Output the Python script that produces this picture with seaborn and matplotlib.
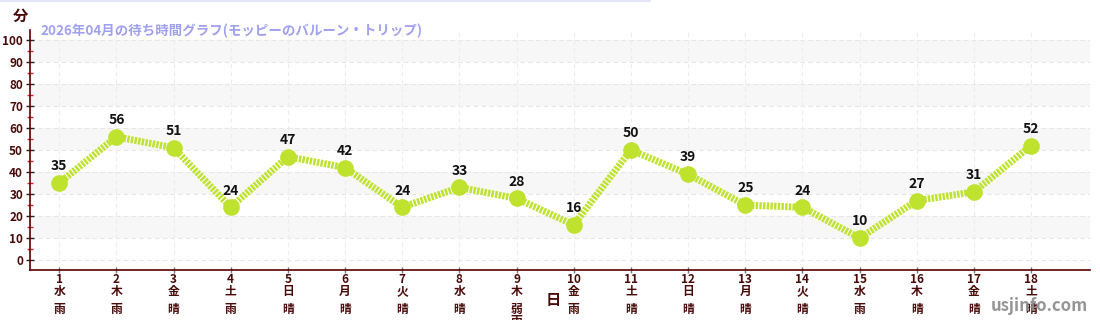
import matplotlib
matplotlib.use("Agg")
import matplotlib.pyplot as plt
import matplotlib.transforms as mtransforms
import seaborn as sns
import pandas as pd
from matplotlib.ticker import MultipleLocator

days = list(range(1, 19))
waits = [35, 56, 51, 24, 47, 42, 24, 33, 28, 16, 50, 39, 25, 24, 10, 27, 31, 52]
weekdays = ["水", "木", "金", "土", "日", "月", "火", "水", "木", "金", "土", "日", "月", "火", "水", "木", "金", "土"]
weather = ["雨", "雨", "晴", "雨", "晴", "晴", "晴", "晴", "弱\n雨", "雨", "晴", "晴", "晴", "晴", "雨", "晴", "晴", "晴"]
title = "2026年04月の待ち時間グラフ(モッピーのバルーン・トリップ)"

sns.set_theme(style="white")
plt.rcParams["font.family"] = ["Noto Sans CJK JP", "DejaVu Sans"]

df = pd.DataFrame({"day": days, "wait": waits})

fig = plt.figure(figsize=(11, 3.2), dpi=100)
ax = fig.add_axes([30 / 1100, 50 / 320, 1060 / 1100, 240 / 320])

for lo in (10, 30, 50, 70, 90):
    ax.axhspan(lo, lo + 10, color="#f7f7f7", zorder=0, lw=0)
for y in range(0, 101, 10):
    ax.axhline(y, color="#e6e6e6", lw=0.8, ls=(0, (4, 3)), zorder=0.5)
for d in days:
    ax.axvline(d, color="#ededed", lw=0.8, ls=(0, (4, 3)), zorder=0.5)

color = "#bfe22e"
sns.lineplot(data=df, x="day", y="wait", ax=ax, color=color, lw=5,
             marker="o", markersize=12, markeredgewidth=0, zorder=3)
line = ax.lines[-1]
line.set_dashes((0.35, 0.18))
line.set_dash_capstyle("butt")

for d, v in zip(days, waits):
    ax.annotate(str(v), (d, v), xytext=(0, 7), textcoords="offset points",
                ha="center", va="bottom", fontsize=10, fontweight="bold", color="#111111")

ax.set_xlim(0.49, 19.03)
ax.set_ylim(-4.5, 104.5)
ax.set_xticks(days)
ax.set_xticklabels([f"{d}\n{w}" for d, w in zip(days, weekdays)],
                   fontsize=8.5, fontweight="bold", color="#4a0a0a", linespacing=0.85, va="top")
ax.set_yticks(range(0, 101, 10))
ax.set_yticklabels([str(y) for y in range(0, 101, 10)], fontsize=8.5, fontweight="bold", color="#4a0a0a")
ax.yaxis.set_minor_locator(MultipleLocator(5))
ax.tick_params(axis="y", which="major", direction="inout", length=6, width=1, color="#222222", left=True, pad=2)
ax.tick_params(axis="y", which="minor", direction="inout", length=4, width=1, color="#dd2222", left=True)
ax.tick_params(axis="x", which="major", direction="inout", length=5, width=1, color="#777777", bottom=True, pad=0)

trans = mtransforms.blended_transform_factory(ax.transData, fig.transFigure)
for d, we in zip(days, weather):
    ax.text(d, 1 - 303 / 320, we, transform=trans, ha="center", va="top", fontsize=8.5,
            fontweight="bold", color="#4a0a0a", linespacing=0.85, clip_on=False)

for s in ("top", "right"):
    ax.spines[s].set_visible(False)
for s in ("left", "bottom"):
    ax.spines[s].set_color("#5a0000")
    ax.spines[s].set_linewidth(1.2)

ax.set_xlabel("")
ax.set_ylabel("")
fig.text(553 / 1100, 1 - 300 / 320, "日", ha="center", va="center", fontsize=11, fontweight="bold", color="#4a0a0a")
fig.text(20 / 1100, 1 - 16 / 320, "分", ha="center", va="center", fontsize=11, fontweight="bold", color="#4a0a0a")
fig.text(40 / 1100, 1 - 31 / 320, title, ha="left", va="center", fontsize=9.7, fontweight="bold", color="#a0a0f0")
fig.text(1088 / 1100, 1 - 306 / 320, "usjinfo.com", ha="right", va="center", fontsize=12, fontweight="bold", color="#8a8a8a", alpha=0.9)
fig.add_artist(plt.Line2D([0, 650 / 1100], [0.998, 0.998], color="#e4e4f8", lw=1.5))

fig.savefig("out.png", dpi=100)
